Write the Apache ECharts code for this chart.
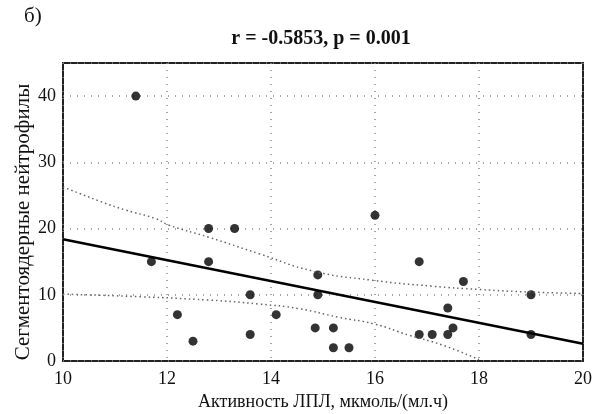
<!DOCTYPE html>
<html>
<head>
<meta charset="utf-8">
<script src="https://cdn.jsdelivr.net/npm/echarts@6.0.0/dist/echarts.min.js"></script>
<style>
  html, body { margin: 0; padding: 0; background: #fff; }
  #chart { width: 601px; height: 414px; }
</style>
</head>
<body>
<div id="chart"></div>
<script>
  // --- Data ---
  var lplActivity = [11.4, 11.7, 12.2, 12.5, 12.8, 12.8, 13.3, 13.6, 13.6, 14.1,
                     14.85, 14.9, 14.9, 15.2, 15.2, 15.5, 16.0, 16.85, 16.85, 17.1,
                     17.4, 17.4, 17.5, 17.7, 19.0, 19.0];
  var neutrophils = [40, 15, 7, 3, 20, 15, 20, 10, 4, 7,
                     5, 13, 10, 5, 2, 2, 22, 15, 4, 4,
                     8, 4, 5, 12, 10, 4];

  // regression line ends
  var fitX = [10, 20];
  var fitY = [18.4, 2.6];

  // confidence band, upper
  var upperX = [10, 10.75, 11.2, 11.78, 12.04, 12.8, 13.77, 14.8, 15.94, 17.1, 18, 19.02, 20];
  var upperY = [26.3, 24.0, 22.8, 21.5, 20.5, 18.7, 16.2, 13.6, 12.2, 11.3, 10.8, 10.4, 10.2];

  // confidence band, lower
  var lowerX = [10, 11.5, 12.8, 13.77, 14.54, 15.3, 15.98, 16.65, 17.3, 18];
  var lowerY = [10.1, 9.7, 9.2, 8.6, 7.9, 6.6, 5.6, 3.9, 2.4, 0.2];

  var xTicks = { min: 10, max: 20, interval: 2 };
  var yTicks = { min: 0, max: 45, interval: 10 };

  function pairs(xs, ys) {
    return xs.map(function (x, i) { return [x, ys[i]]; });
  }

  var serif = '"Liberation Serif", "DejaVu Serif", serif';
  var chart = echarts.init(document.getElementById('chart'), null, { renderer: 'canvas' });

  var option = {
    animation: false,
    backgroundColor: '#fff',
    title: [
      {
        text: 'б)',
        left: 19, top: 1,
        textStyle: { fontFamily: serif, fontSize: 21, fontWeight: 'normal', color: '#111' }
      },
      {
        text: 'r = -0.5853, p = 0.001',
        left: 316, top: 24, textAlign: 'center',
        textStyle: { fontFamily: serif, fontSize: 20, fontWeight: 'bold', color: '#111' }
      }
    ],
    grid: {
      left: 63, right: 18, top: 63, bottom: 53,
      outerBoundsMode: 'none',
      show: true, borderColor: '#222', borderWidth: 2
    },
    xAxis: {
      type: 'value',
      min: xTicks.min, max: xTicks.max, interval: xTicks.interval,
      name: 'Активность ЛПЛ, мкмоль/(мл.ч)',
      nameLocation: 'middle', nameGap: 31,
      nameTextStyle: { fontFamily: serif, fontSize: 18, color: '#111' },
      axisLine: { show: false },
      axisTick: { show: false },
      axisLabel: { fontFamily: serif, fontSize: 18, color: '#111', margin: 9 },
      splitLine: { show: true, lineStyle: { color: '#888', type: [1, 6], width: 1.5 } }
    },
    yAxis: {
      type: 'value',
      min: yTicks.min, max: yTicks.max, interval: yTicks.interval,
      name: 'Сегментоядерные нейтрофилы',
      nameLocation: 'middle', nameGap: 29,
      nameMoveOverlap: false,
      // right padding pushes the rotated label a little lower, as in the picture
      nameTextStyle: { fontFamily: serif, fontSize: 21, color: '#111', padding: [0, 20, 0, 0] },
      axisLine: { show: false },
      axisTick: { show: false },
      axisLabel: { fontFamily: serif, fontSize: 18, color: '#111', margin: 7, showMaxLabel: false },
      splitLine: { show: true, lineStyle: { color: '#888', type: [1, 6], width: 1.5 } }
    },
    series: [
      {
        type: 'line',
        data: pairs(upperX, upperY),
        symbol: 'none', smooth: true,
        lineStyle: { color: '#666', width: 1.5, type: [1.5, 3] }
      },
      {
        type: 'line',
        data: pairs(lowerX, lowerY),
        symbol: 'none', smooth: true,
        lineStyle: { color: '#666', width: 1.5, type: [1.5, 3] }
      },
      {
        type: 'line',
        data: pairs(fitX, fitY),
        symbol: 'none',
        lineStyle: { color: '#000', width: 2.5 }
      },
      {
        type: 'scatter',
        data: pairs(lplActivity, neutrophils),
        symbol: 'circle', symbolSize: 9,
        itemStyle: { color: '#000' }
      }
    ]
  };

  chart.setOption(option);
</script>
</body>
</html>
